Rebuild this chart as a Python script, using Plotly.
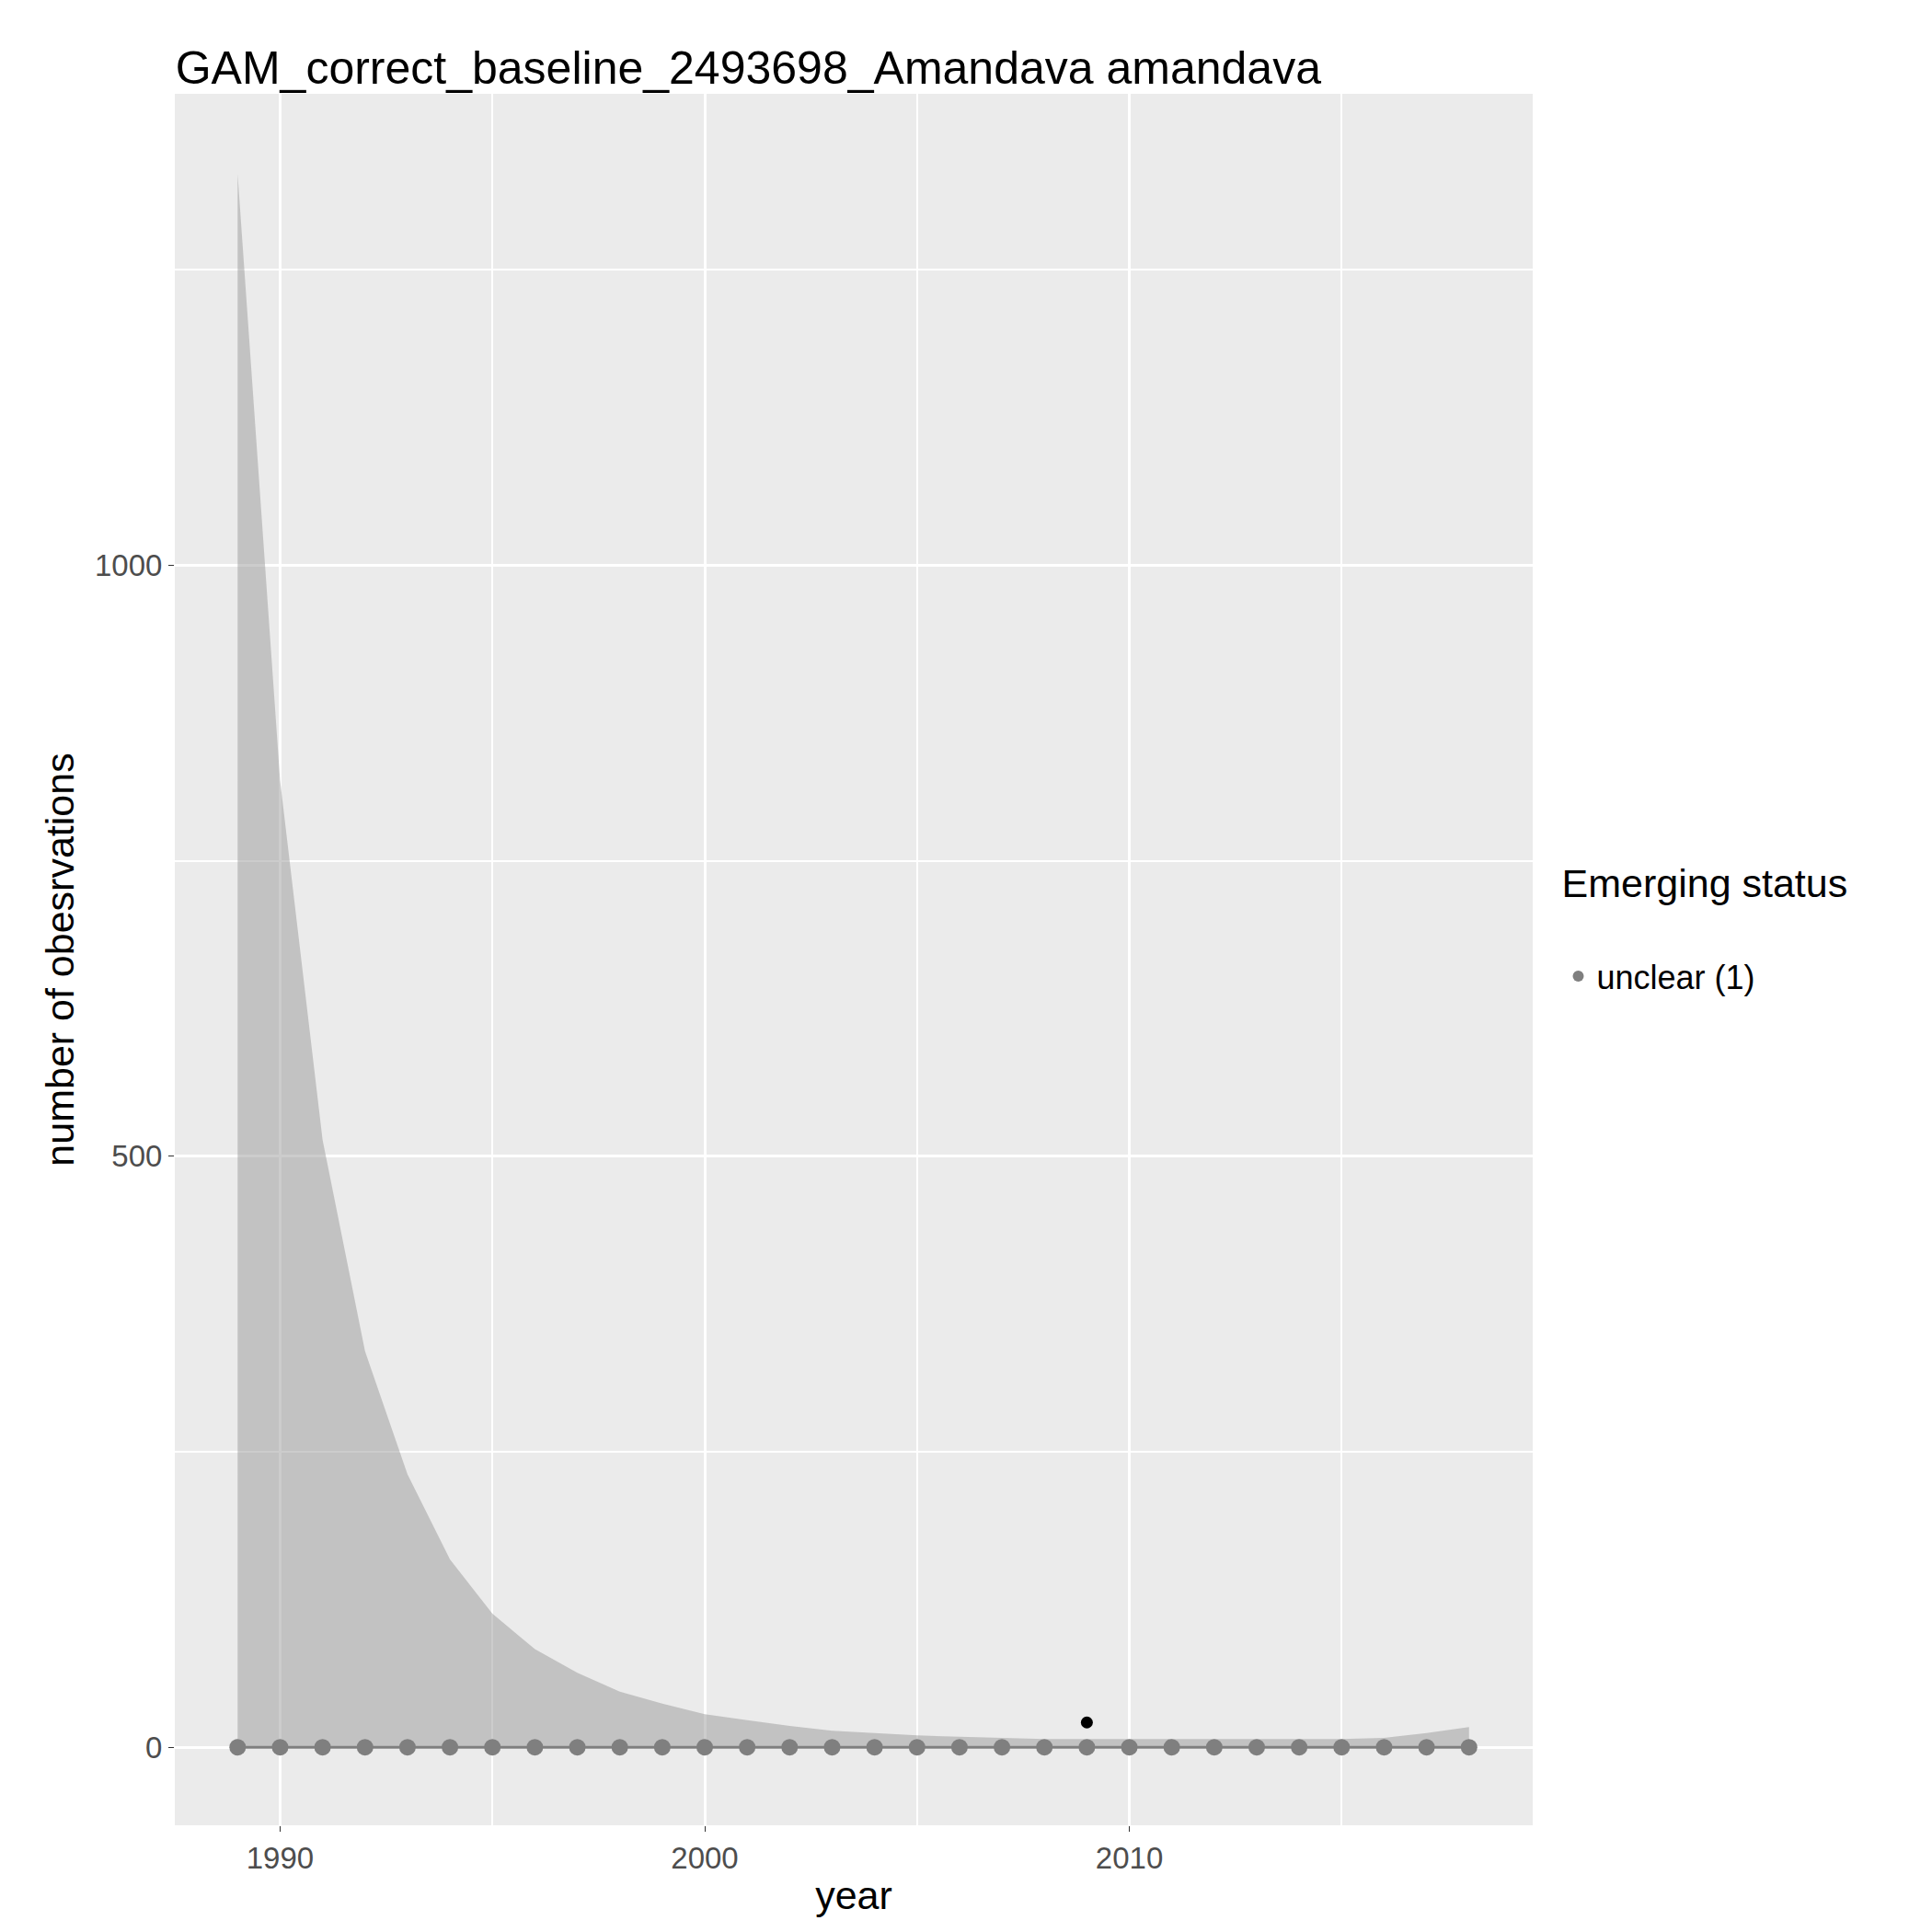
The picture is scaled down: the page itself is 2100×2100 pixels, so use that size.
import plotly.graph_objects as go

years = list(range(1989, 2019))
upper = [1331, 818, 514, 335, 231, 159, 113, 83, 63, 47, 37, 28, 23, 18, 14, 12, 10, 9, 8, 7,
         7, 7, 7, 7, 7, 7, 7, 8, 12, 17]
lower = [0] * len(years)
fit = [0] * len(years)
obs_years = [2009]
obs_vals = [21]

fig = go.Figure()
fig.add_trace(go.Scatter(x=years, y=lower, mode="lines", line=dict(width=0), showlegend=False, hoverinfo="skip"))
fig.add_trace(go.Scatter(x=years, y=upper, mode="lines", line=dict(width=0), fill="tonexty",
                         fillcolor="rgba(153,153,153,0.5)", showlegend=False))
fig.add_trace(go.Scatter(x=years, y=fit, mode="lines", line=dict(color="#7f7f7f", width=3), showlegend=False))
fig.add_trace(go.Scatter(x=years, y=fit, mode="markers", marker=dict(color="#7f7f7f", size=18),
                         name="unclear (1)"))
fig.add_trace(go.Scatter(x=obs_years, y=obs_vals, mode="markers", marker=dict(color="black", size=13),
                         showlegend=False))

fig.update_layout(
    width=2100, height=2100, paper_bgcolor="white", plot_bgcolor="#EBEBEB",
    margin=dict(l=182, r=442, t=94, b=124),
    font=dict(family="Liberation Sans, Arial", color="black"),
    title=dict(text="GAM_correct_baseline_2493698_Amandava amandava", x=0.087, xanchor="left",
               y=0.977, font=dict(size=50)),
    legend=dict(title=dict(text="Emerging status<br> ", font=dict(size=43)), font=dict(size=36),
                x=1.02, y=0.52, xanchor="left", yanchor="middle", bgcolor="white", itemsizing="constant"),
    xaxis=dict(range=[1987.52, 2019.5], tickvals=[1990, 2000, 2010], showgrid=True,
               gridcolor="white", gridwidth=3, minor=dict(dtick=5, showgrid=True, gridcolor="white", gridwidth=1.5),
               zeroline=False, ticks="outside", ticklen=6, tickcolor="#333", tickfont=dict(size=33, color="#4d4d4d"),
               title=dict(text="year", font=dict(size=43), standoff=8)),
    yaxis=dict(range=[-66, 1399], tickvals=[0, 500, 1000], showgrid=True, gridcolor="white", gridwidth=3,
               minor=dict(dtick=250, showgrid=True, gridcolor="white", gridwidth=1.5),
               zeroline=False, ticks="outside", ticklen=6, tickcolor="#333", tickfont=dict(size=33, color="#4d4d4d"),
               title=dict(text="number of obesrvations", font=dict(size=43), standoff=8)),
)
fig.write_html("out.html")
